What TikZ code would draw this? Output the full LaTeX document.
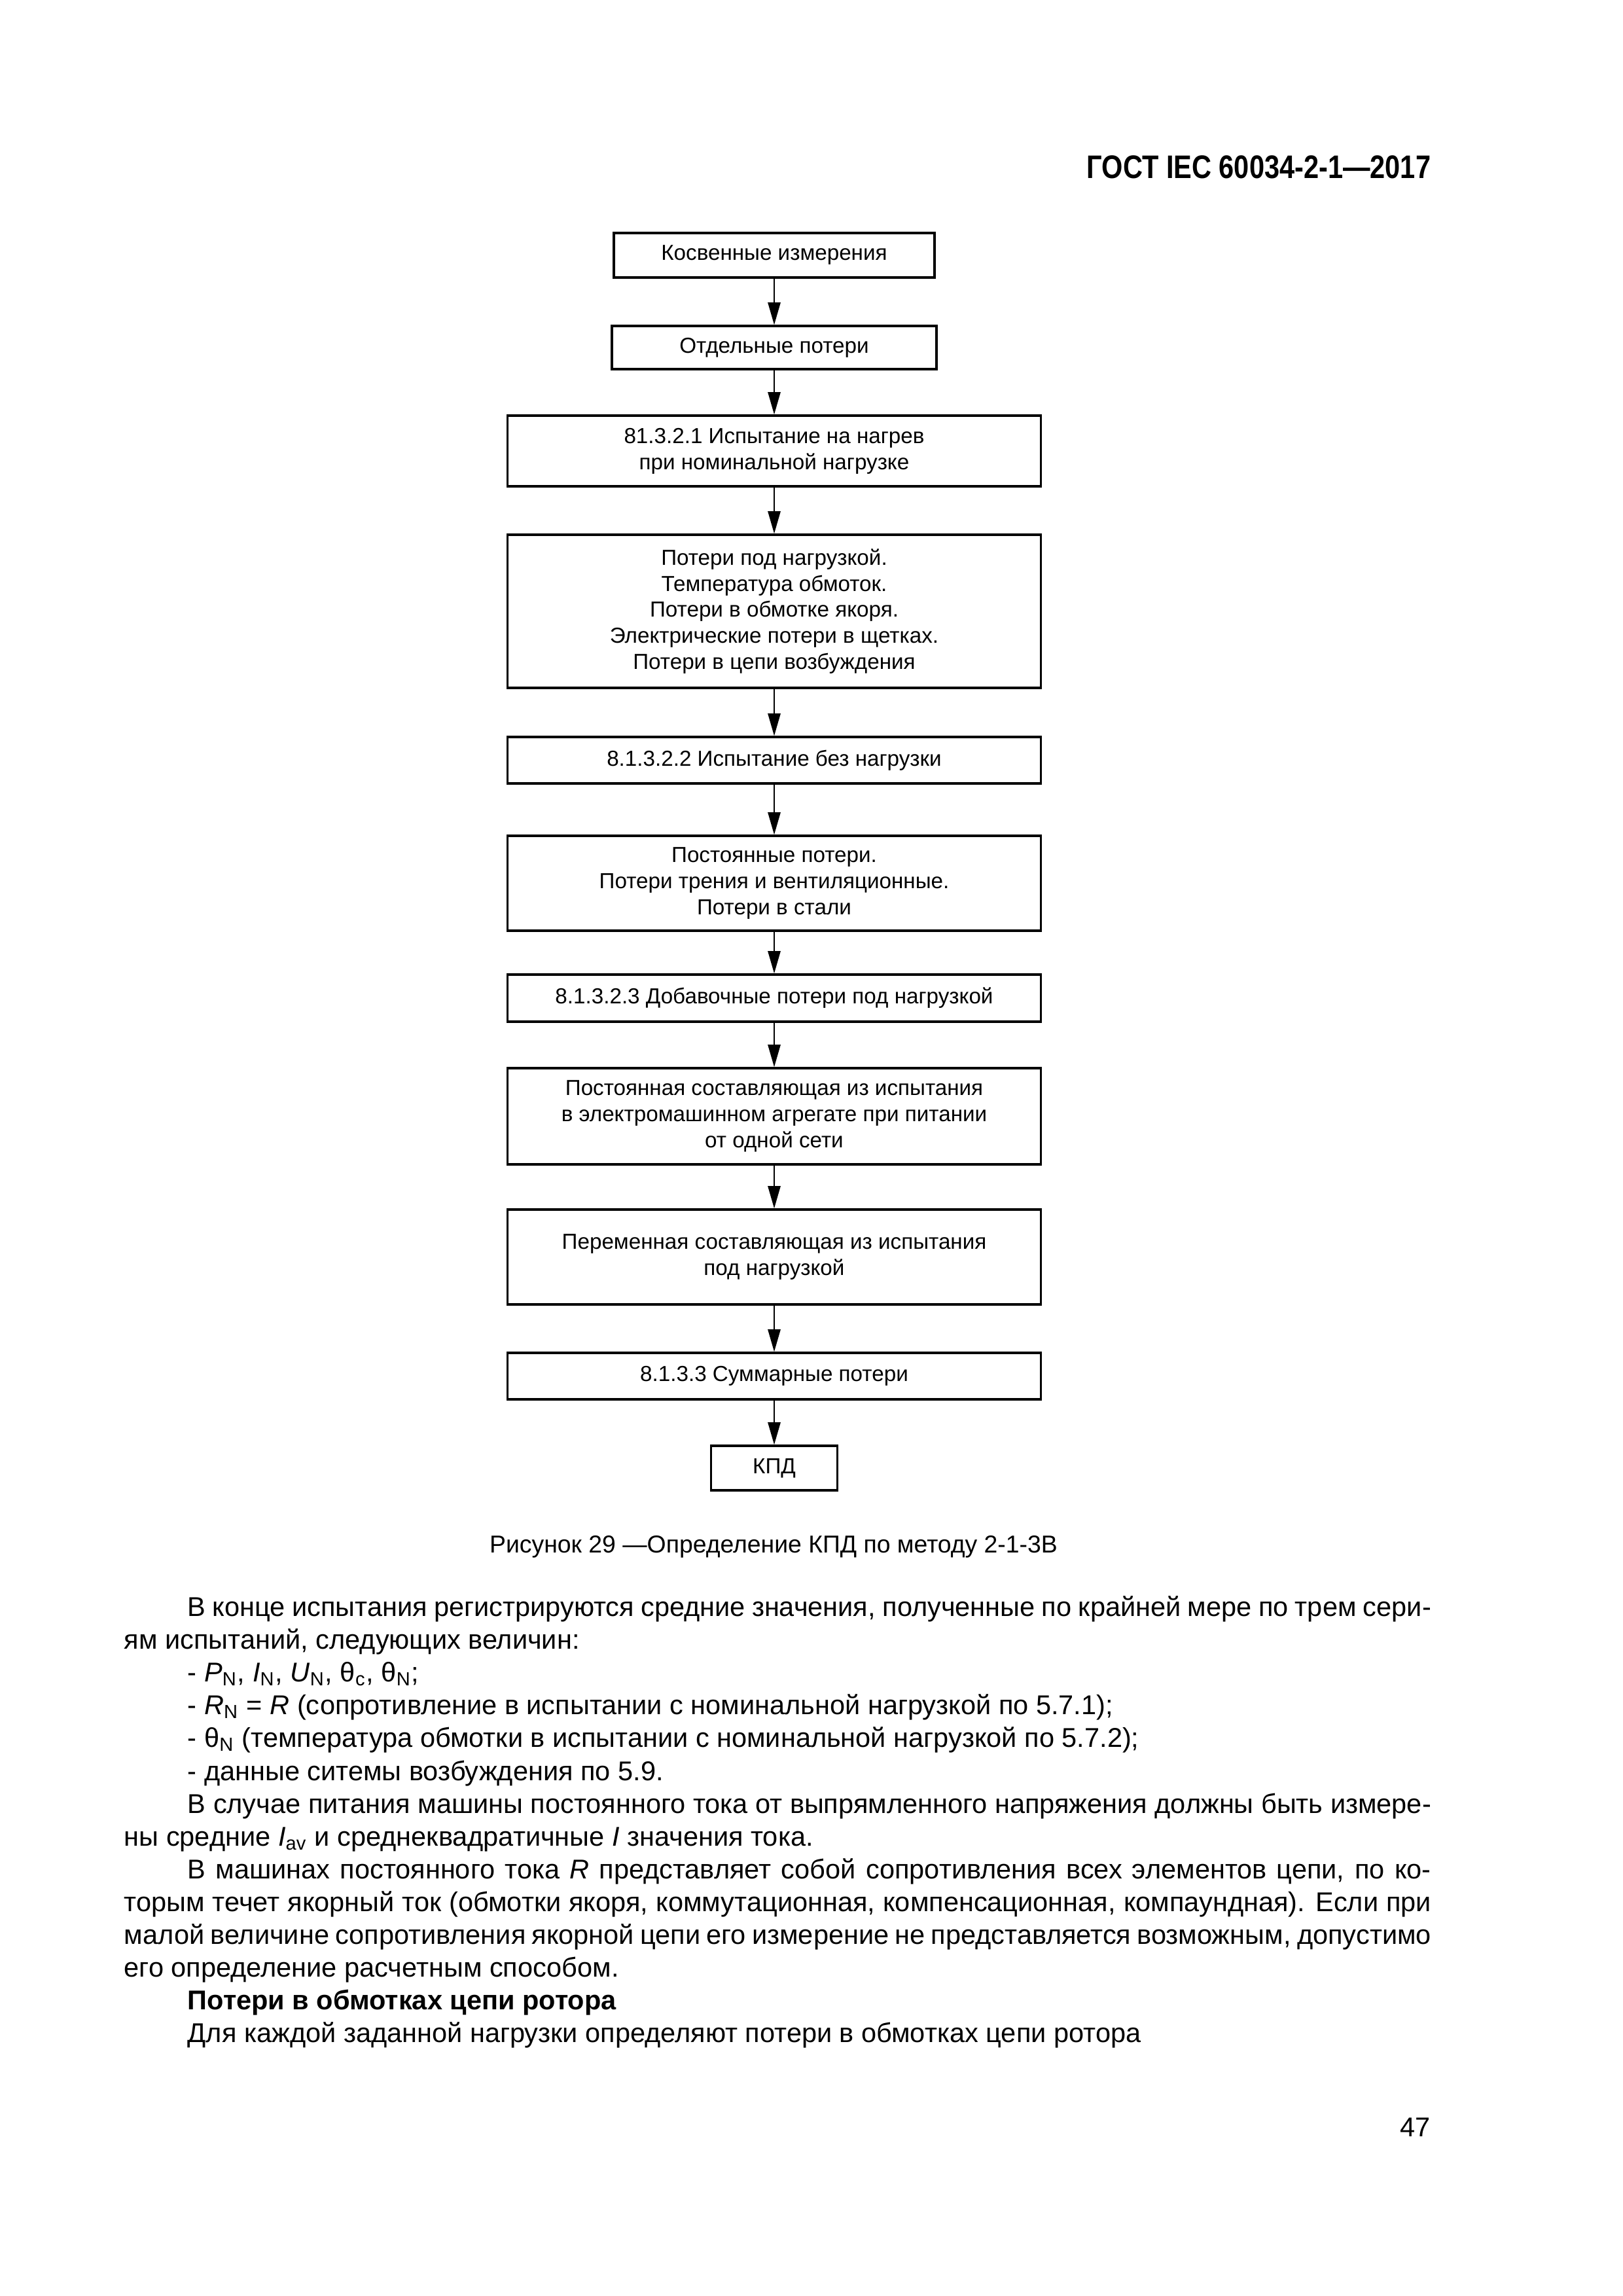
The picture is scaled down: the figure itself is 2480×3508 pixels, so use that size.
\documentclass[tikz,border=0pt]{standalone}
\usepackage{fontspec}
\setmainfont{Liberation Sans}
\usetikzlibrary{arrows.meta}
\def\pxu{0.084667mm}
\begin{document}
\begin{tikzpicture}[x=0.084667mm,y=-0.084667mm,
  fbox/.style={draw, line width=0.75pt, inner sep=0pt, align=center,
    font=\fontsize{8}{9.6}\selectfont},
  arr/.style={line width=0.7pt, -{Triangle[length=2.9mm,width=1.6mm]}},
  txt/.style={inner sep=0pt, anchor=base west, font=\fontsize{10}{12}\selectfont}]
\useasboundingbox (0,0) rectangle (2480,3508);

% header
\node[inner sep=0pt, anchor=base east, font=\fontsize{12}{14}\selectfont\bfseries] (hdr) at (2187,272)
  {\scalebox{0.834}[1]{ГОСТ IEC 60034-2-1—2017}};

% flowchart
\node[fbox, minimum width=490*\pxu, minimum height=68*\pxu] (b1) at (1183,390) {Косвенные измерения};
\node[fbox, minimum width=496*\pxu, minimum height=66*\pxu] (b2) at (1183,531) {Отдельные потери};
\node[fbox, minimum width=815*\pxu, minimum height=108*\pxu] (b3) at (1183,689)
  {81.3.2.1 Испытание на нагрев\\при номинальной нагрузке};
\node[fbox, minimum width=815*\pxu, minimum height=234*\pxu] (b4) at (1183,934)
  {Потери под нагрузкой.\\Температура обмоток.\\Потери в обмотке якоря.\\Электрические потери в щетках.\\Потери в цепи возбуждения};
\node[fbox, minimum width=815*\pxu, minimum height=71*\pxu] (b5) at (1183,1161.5)
  {8.1.3.2.2 Испытание без нагрузки};
\node[fbox, minimum width=815*\pxu, minimum height=145*\pxu] (b6) at (1183,1349.5)
  {Постоянные потери.\\Потери трения и вентиляционные.\\Потери в стали};
\node[fbox, minimum width=815*\pxu, minimum height=72*\pxu] (b7) at (1183,1525)
  {8.1.3.2.3 Добавочные потери под нагрузкой};
\node[fbox, minimum width=815*\pxu, minimum height=147*\pxu] (b8) at (1183,1705.5)
  {Постоянная составляющая из испытания\\в электромашинном агрегате при питании\\от одной сети};
\node[fbox, minimum width=815*\pxu, minimum height=145*\pxu] (b9) at (1183,1920.5)
  {Переменная составляющая из испытания\\под нагрузкой};
\node[fbox, minimum width=815*\pxu, minimum height=71*\pxu] (b10) at (1183,2102.5)
  {8.1.3.3 Суммарные потери};
\node[fbox, minimum width=193*\pxu, minimum height=68*\pxu] (b11) at (1183,2243) {КПД};

\foreach \a/\b in {b1/b2,b2/b3,b3/b4,b4/b5,b5/b6,b6/b7,b7/b8,b8/b9,b9/b10,b10/b11}
  \draw[arr] (\a) -- (\b);

% caption
\node[inner sep=0pt, anchor=base, font=\fontsize{9}{10.8}\selectfont] (cap) at (1182,2372)
  {Рисунок 29 —Определение КПД по методу 2-1-3В};

% body text
\node[txt] (l0) at (286,2469) {\makebox[160.87mm][s]{В конце испытания регистрируются средние значения, полученные по крайней мере по трем сери-}};
\node[txt] (l1) at (189,2519) {ям испытаний, следующих величин:};
\node[txt] (l2) at (286,2569) {- \textit{P}\textsubscript{N}, \textit{I}\textsubscript{N}, \textit{U}\textsubscript{N}, θ\textsubscript{c}, θ\textsubscript{N};};
\node[txt] (l3) at (286,2619) {- \textit{R}\textsubscript{N} = \textit{R} (сопротивление в испытании с номинальной нагрузкой по 5.7.1);};
\node[txt] (l4) at (286,2669) {- θ\textsubscript{N} (температура обмотки в испытании с номинальной нагрузкой по 5.7.2);};
\node[txt] (l5) at (286,2720) {- данные ситемы возбуждения по 5.9.};
\node[txt] (l6) at (286,2770) {\makebox[160.87mm][s]{В случае питания машины постоянного тока от выпрямленного напряжения должны быть измере-}};
\node[txt] (l7) at (189,2820) {ны средние \textit{I}\textsubscript{av} и среднеквадратичные \textit{I} значения тока.};
\node[txt] (l8) at (286,2870) {\makebox[160.87mm][s]{В машинах постоянного тока \textit{R} представляет собой сопротивления всех элементов цепи, по ко-}};
\node[txt] (l9) at (189,2920) {\makebox[169.08mm][s]{торым течет якорный ток (обмотки якоря, коммутационная, компенсационная, компаундная). Если при}};
\node[txt] (l10) at (189,2970) {\makebox[169.08mm][s]{малой величине сопротивления якорной цепи его измерение не представляется возможным, допустимо}};
\node[txt] (l11) at (189,3020) {его определение расчетным способом.};
\node[txt, font=\fontsize{10}{12}\selectfont\bfseries] (l12) at (286,3070) {Потери в обмотках цепи ротора};
\node[txt] (l13) at (286,3120) {Для каждой заданной нагрузки определяют потери в обмотках цепи ротора};

% page number
\node[inner sep=0pt, anchor=base east, font=\fontsize{10}{12}\selectfont] (pg) at (2186,3264) {47};
\end{tikzpicture}
\end{document}
